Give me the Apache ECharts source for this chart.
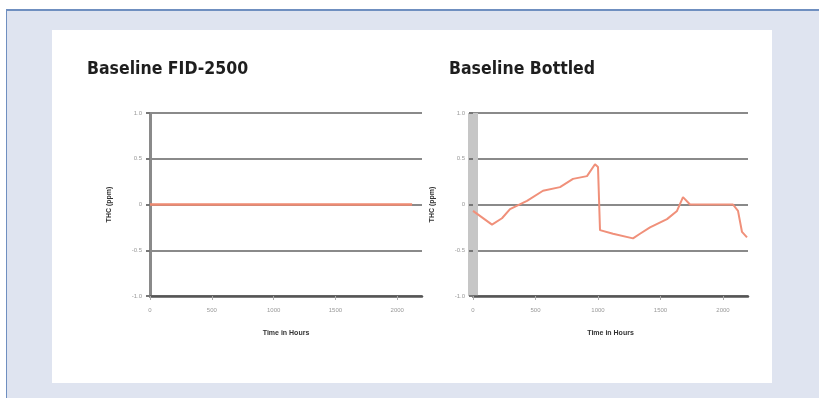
<!DOCTYPE html>
<html>
<head>
<meta charset="utf-8">
<script src="https://cdn.jsdelivr.net/npm/echarts@6/dist/echarts.min.js"></script>
<style>
  html, body { margin:0; padding:0; background:#ffffff; }
  #wrap { position:relative; width:819px; height:398px; overflow:hidden; background:#ffffff; }
  #panel { position:absolute; left:6px; top:9px; width:813px; height:389px; background:#dfe4f0;
           border-top:2px solid #6f8fc0; border-left:1px solid #6f8fc0; box-sizing:border-box; }
  #inner { position:absolute; left:52px; top:30px; width:720px; height:353px; background:#ffffff; }
  #chart { position:absolute; left:0; top:0; width:819px; height:398px; }
</style>
</head>
<body>
<div id="wrap">
  <div id="panel"></div>
  <div id="inner"></div>
  <div id="chart"></div>
</div>
<script>
// ---- data ----
const titles = ['Baseline FID-2500', 'Baseline Bottled'];
const xTickValues = [0, 500, 1000, 1500, 2000];
const xTickLabels = ['0', '500', '1000', '1500', '2000'];
const yTickValues = [-1, -0.5, 0, 0.5, 1];
const yTickLabels = ['-1.0', '-0.5', '0', '0.5', '1.0'];
const xAxisTitle = 'Time in Hours';
const yAxisTitle = 'THC (ppm)';

const fidHours  = [0, 250, 500, 750, 1000, 1250, 1500, 1750, 2000, 2120];
const fidValues = [0, 0, 0, 0, 0, 0, 0, 0, 0, 0];

const bottledHours  = [0, 152, 232, 296, 432, 560, 696, 800, 912, 976, 1000, 1016, 1120, 1280, 1336, 1416, 1552, 1632, 1680, 1736, 2080, 2120, 2152, 2192];
const bottledValues = [-0.07, -0.22, -0.15, -0.05, 0.04, 0.15, 0.19, 0.28, 0.31, 0.44, 0.41, -0.28, -0.32, -0.37, -0.32, -0.25, -0.16, -0.07, 0.08, 0, 0, -0.07, -0.3, -0.36];

// ---- chart ----
const chart = echarts.init(document.getElementById('chart'), null, {renderer:'canvas'});
function pairs(xs, ys){ return xs.map((x,i)=>[x, ys[i]]); }

function xAx(idx){
  return {
    type:'value', gridIndex:idx, min:0, max:2200, interval:500,
    name:xAxisTitle, nameLocation:'middle', nameGap:34,
    nameTextStyle:{color:'#333', fontSize:7, fontWeight:'bold', fontFamily:'Liberation Sans'},
    axisLine:{show:true, onZero:false, lineStyle:{color:'#555', width:2.5}},
    axisTick:{show:true, length:4, customValues:xTickValues, lineStyle:{color:'#aaa', width:1}},
    axisLabel:{customValues:xTickValues, color:'#999', fontSize:6, margin:11,
      formatter:(v)=>xTickLabels[xTickValues.indexOf(v)] ?? ''},
    splitLine:{show:false}
  };
}
function yAx(idx, axisColor, axisWidth){
  return {
    type:'value', gridIndex:idx, min:-1, max:1, interval:0.5,
    name:yAxisTitle, nameLocation:'middle', nameGap:37, nameRotate:90,
    nameTextStyle:{color:'#333', fontSize:7, fontWeight:'bold', fontFamily:'Liberation Sans'},
    axisLine:{show:true, lineStyle:{color:axisColor, width:axisWidth, cap:'butt'}},
    axisTick:{show:true, length:4, lineStyle:{color:'#777', width:2}},
    axisLabel:{color:'#999', fontSize:6, margin:8,
      formatter:(v)=>{ const i = yTickValues.findIndex(t=>Math.abs(t-v)<1e-9); return i>=0 ? yTickLabels[i] : ''; }},
    splitLine:{show:true, lineStyle:{color:'#8a8a8a', width:2}}
  };
}

const titleStyle = {color:'#1e1e1e', fontSize:17.5, fontWeight:'bold', fontFamily:'"DejaVu Sans Condensed", "Liberation Sans Narrow", "Roboto Condensed", sans-serif'};

chart.setOption({
  animation:false,
  title:[
    {text:titles[0], left:87, top:60, textStyle:titleStyle, padding:0},
    {text:titles[1], left:449, top:60, textStyle:titleStyle, padding:0}
  ],
  grid:[
    {left:150, right:397, top:113, bottom:102},
    {left:473, right:71, top:113, bottom:102}
  ],
  xAxis:[xAx(0), xAx(1)],
  yAxis:[yAx(0, '#8a8a8a', 3), yAx(1, '#c6c6c6', 10)],
  series:[
    {type:'line', xAxisIndex:0, yAxisIndex:0, data:pairs(fidHours, fidValues),
     showSymbol:false, lineStyle:{color:'#ee8a72', width:2.5}, z:5},
    {type:'line', xAxisIndex:1, yAxisIndex:1, data:pairs(bottledHours, bottledValues),
     showSymbol:false, lineStyle:{color:'#f0907a', width:2}, z:5}
  ]
});
</script>
</body>
</html>
